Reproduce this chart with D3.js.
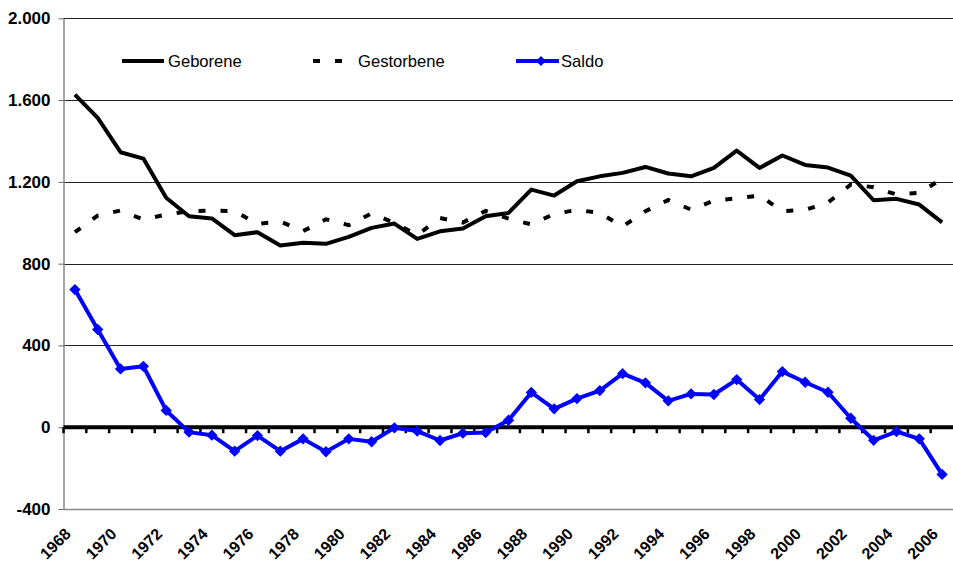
<!DOCTYPE html>
<html>
<head>
  <meta charset="utf-8">
  <style>
    body { margin: 0; background: #fff; }
    svg { display: block; }
    text { font-family: "Liberation Sans", Arial, sans-serif; fill: #000; }
    .ylab text { font-weight: bold; font-size: 17px; }
    .xlab text { font-weight: bold; font-size: 16px; }
    .legend text { font-size: 16.6px; }
  </style>
</head>
<body>
  <script src="https://d3js.org/d3.v7.min.js"></script>
  <script>
    // data
    var years = [1968, 1969, 1970, 1971, 1972, 1973, 1974, 1975, 1976, 1977,
                 1978, 1979, 1980, 1981, 1982, 1983, 1984, 1985, 1986, 1987,
                 1988, 1989, 1990, 1991, 1992, 1993, 1994, 1995, 1996, 1997,
                 1998, 1999, 2000, 2001, 2002, 2003, 2004, 2005, 2006];
    var geborene = [1627, 1513, 1345, 1314, 1122, 1032, 1021, 939, 954, 889,
                    902, 897, 931, 975, 996, 921, 958, 972, 1032, 1048,
                    1162, 1133, 1203, 1227, 1244, 1273, 1241, 1227, 1268, 1353,
                    1268, 1329, 1283, 1270, 1231, 1110, 1117, 1089, 1002];
    var gestorbene = [954, 1035, 1060, 1016, 1040, 1056, 1060, 1056, 995, 1006,
                      959, 1017, 988, 1046, 999, 940, 1023, 1001, 1058, 1020,
                      992, 1043, 1063, 1048, 982, 1056, 1112, 1064, 1108, 1120,
                      1133, 1057, 1063, 1099, 1187, 1174, 1138, 1146, 1215];
    var saldo = [673, 478, 285, 298, 82, -24, -39, -117, -41, -117,
                 -57, -120, -57, -71, -3, -19, -65, -29, -26, 34,
                 170, 90, 140, 179, 262, 217, 129, 163, 160, 233,
                 135, 272, 220, 171, 44, -64, -21, -57, -231];
    var yTicks = [-400, 0, 400, 800, 1200, 1600, 2000];
    var xLabels = years.filter(function(d, i) { return i % 2 === 0; });
    var seriesNames = ["Geborene", "Gestorbene", "Saldo"];

    var width = 953, height = 562;
    var plot = {left: 63.5, right: 953.5, top: 18.3, bottom: 509};

    var de = d3.formatLocale({decimal: ",", thousands: ".", grouping: [3], currency: ["", " €"], minus: "-"});
    var fmt = de.format(",d");

    var x = d3.scaleBand().domain(years).range([plot.left, plot.right]),
        y = d3.scaleLinear().domain([-400, 2000]).range([plot.bottom, plot.top]);
    var cx = function(yr) { return x(yr) + x.bandwidth() / 2; };

    var svg = d3.select("body").append("svg")
        .attr("width", width)
        .attr("height", height);

    // horizontal gridlines
    svg.append("g")
      .selectAll("line")
      .data(yTicks.filter(function(d) { return d > 0; }))
      .enter().append("line")
        .attr("x1", plot.left).attr("x2", plot.right)
        .attr("y1", function(d) { return Math.round(y(d)) + 0.5; })
        .attr("y2", function(d) { return Math.round(y(d)) + 0.5; })
        .attr("stroke", "#222")
        .attr("stroke-width", 1);

    // bottom border of the plot
    svg.append("line")
        .attr("x1", plot.left).attr("x2", plot.right)
        .attr("y1", Math.round(y(-400)) + 0.5).attr("y2", Math.round(y(-400)) + 0.5)
        .attr("stroke", "#888")
        .attr("stroke-width", 1.5);

    // value axis
    var yAxis = svg.append("g")
        .attr("class", "ylab")
        .attr("transform", "translate(" + plot.left + ",0)")
        .call(d3.axisLeft(y).tickValues(yTicks).tickSize(5).tickSizeOuter(0).tickPadding(8).tickFormat(fmt));
    yAxis.select(".domain").attr("stroke", "#888").attr("stroke-width", 1.5);
    yAxis.selectAll(".tick line").attr("stroke", "#666");
    yAxis.selectAll("text").attr("font-size", null).attr("font-family", null);

    // category axis crossing at zero, ticks on band edges
    svg.append("g")
      .selectAll("line")
      .data(years)
      .enter().append("line")
        .attr("x1", function(d) { return x(d); })
        .attr("x2", function(d) { return x(d); })
        .attr("y1", y(0)).attr("y2", y(0) + 6)
        .attr("stroke", "#000")
        .attr("stroke-width", 2.5);
    svg.append("line")
        .attr("x1", plot.left).attr("x2", plot.right)
        .attr("y1", y(0)).attr("y2", y(0))
        .attr("stroke", "#000")
        .attr("stroke-width", 4);

    // year labels
    svg.append("g")
        .attr("class", "xlab")
      .selectAll("text")
      .data(xLabels)
      .enter().append("text")
        .attr("text-anchor", "end")
        .attr("transform", function(d) { return "translate(" + (cx(d) - 3) + ",535) rotate(-45)"; })
        .text(function(d) { return d; });

    var line = d3.line()
        .x(function(d, i) { return cx(years[i]); })
        .y(function(d) { return y(d); });

    svg.append("path")
        .datum(gestorbene)
        .attr("d", line)
        .attr("fill", "none")
        .attr("stroke", "#000")
        .attr("stroke-width", 4)
        .attr("stroke-dasharray", "7,15");

    svg.append("path")
        .datum(geborene)
        .attr("d", line)
        .attr("fill", "none")
        .attr("stroke", "#000")
        .attr("stroke-width", 4)
        .attr("stroke-linejoin", "round");

    svg.append("path")
        .datum(saldo)
        .attr("d", line)
        .attr("fill", "none")
        .attr("stroke", "#0000ff")
        .attr("stroke-width", 4)
        .attr("stroke-linejoin", "round");

    // diamond markers, square turned 45 degrees
    var diamond = {draw: function(ctx, size) {
      var r = Math.sqrt(size / 2);
      ctx.moveTo(0, -r); ctx.lineTo(r, 0); ctx.lineTo(0, r); ctx.lineTo(-r, 0); ctx.closePath();
    }};
    svg.append("g")
      .selectAll("path")
      .data(saldo)
      .enter().append("path")
        .attr("transform", function(d, i) { return "translate(" + cx(years[i]) + "," + y(d) + ")"; })
        .attr("d", d3.symbol().type(diamond).size(64))
        .attr("fill", "#0000ff");

    // legend
    var legend = svg.append("g").attr("class", "legend");
    legend.append("line")
        .attr("x1", 122).attr("x2", 164).attr("y1", 61).attr("y2", 61)
        .attr("stroke", "#000").attr("stroke-width", 4);
    legend.append("line")
        .attr("x1", 313).attr("x2", 343).attr("y1", 61).attr("y2", 61)
        .attr("stroke", "#000").attr("stroke-width", 4).attr("stroke-dasharray", "7,15");
    legend.append("line")
        .attr("x1", 516).attr("x2", 559).attr("y1", 61).attr("y2", 61)
        .attr("stroke", "#0000ff").attr("stroke-width", 4);
    legend.append("path")
        .attr("transform", "translate(541,61)")
        .attr("d", d3.symbol().type(diamond).size(50))
        .attr("fill", "#0000ff");
    legend.selectAll("text")
      .data(seriesNames)
      .enter().append("text")
        .attr("x", function(d, i) { return [168, 358, 561][i]; })
        .attr("y", 67)
        .text(function(d) { return d; });
  </script>
</body>
</html>
